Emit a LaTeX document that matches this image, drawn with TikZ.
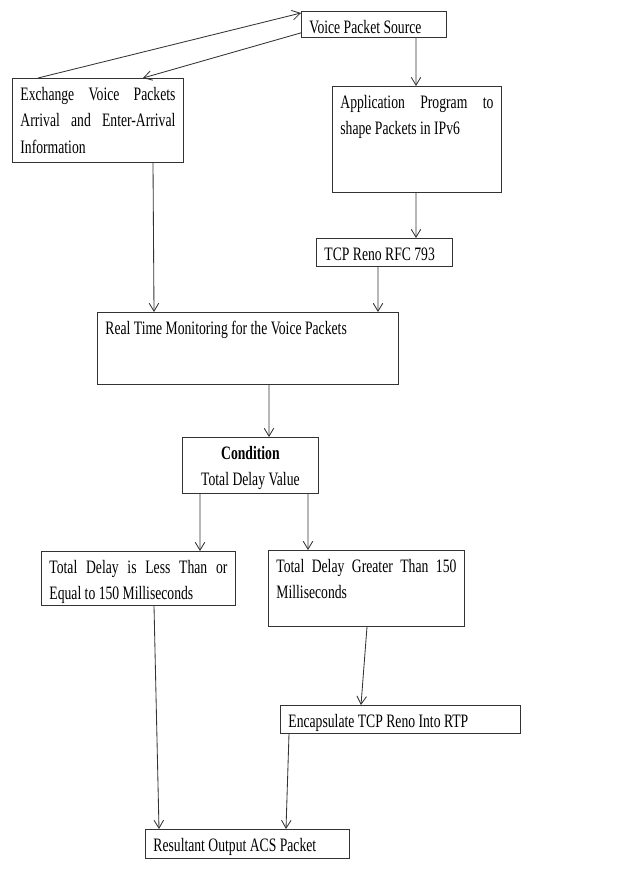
\documentclass[tikz,border=0pt]{standalone}
\usepackage{fontspec}
\setmainfont[FakeStretch=0.72]{Liberation Serif}
\usetikzlibrary{arrows.meta}
\hyphenpenalty=10000
\tolerance=10000
\begin{document}
\begin{tikzpicture} [>={Straight Barb[length=2mm, width=2.4mm]},
	box/.style = {draw = black!80, line width = 0.6pt, anchor = north west, inner xsep = 0.2cm, inner ysep = 0pt, text height = 0.54cm, align = justify, font = \fontsize{13.5}{19}\selectfont},
	link/.style = {black!80, line width = 0.6pt, ->}]
	\useasboundingbox (0,0) rectangle (15.725,-22.1);
	% boxes
	\node [box, text width = 3.225cm, text depth = 0.11cm] (src) at (7.525,-0.275) {Voice Packet Source};
	\node [box, text width = 3.875cm, text depth = 1.56cm] (exch) at (0.3,-1.95) {Exchange Voice Packets Arrival and Enter-Arrival Information};
	\node [box, text width = 3.825cm, text depth = 2.11cm] (app) at (8.3,-2.15) {Application Program to shape Packets in IPv6};
	\node [box, text width = 3cm, text depth = 0.16cm] (tcp) at (7.9,-5.95) {TCP Reno RFC 793};
	\node [box, text width = 7.125cm, text depth = 1.26cm] (mon) at (2.425,-7.8) {Real Time Monitoring for the Voice Packets};
	\node [box, text width = 3cm, text depth = 0.86cm, align = flush center] (cond) at (4.55,-10.925) {\textbf{Condition}\\Total Delay Value};
	\node [box, text width = 4.45cm, text depth = 0.81cm] (less) at (1.025,-13.775) {Total Delay is Less Than or Equal to 150 Milliseconds};
	\node [box, text width = 4.5cm, text depth = 1.36cm] (more) at (6.7,-13.75) {Total Delay Greater Than 150 Milliseconds};
	\node [box, text width = 5.6cm, text depth = 0.16cm] (enc) at (7,-17.625) {Encapsulate TCP Reno Into RTP};
	\node [box, text width = 4.7cm, text depth = 0.185cm] (res) at (3.625,-20.725) {Resultant Output ACS Packet};
	% arrows
	\draw [link] ([xshift=0.65cm]exch.north west) -- ([yshift=-0.05cm]src.north west);
	\draw [link] ([yshift=0.125cm]src.south west) -- ([xshift=3.275cm]exch.north west);
	\draw [link] ([xshift=2.875cm]src.south west) -- ([xshift=2.1cm]app.north west);
	\draw [link] ([xshift=2.1cm]app.south west) -- ([xshift=2.5cm]tcp.north west);
	\draw [link] ([xshift=3.525cm]exch.south west) -- ([xshift=1.425cm]mon.north west);
	\draw [link] ([xshift=1.55cm]tcp.south west) -- ([xshift=7.025cm]mon.north west);
	\draw [link] ([xshift=4.3cm]mon.south west) -- ([xshift=2.175cm]cond.north west);
	\draw [link] ([xshift=0.45cm]cond.south west) -- ([xshift=3.975cm]less.north west);
	\draw [link] ([xshift=3.15cm]cond.south west) -- ([xshift=1cm]more.north west);
	\draw [link] ([xshift=2.825cm]less.south west) -- ([xshift=0.35cm]res.north west);
	\draw [link] ([xshift=2.475cm]more.south west) -- ([xshift=2.025cm]enc.north west);
	\draw [link] ([xshift=0.225cm]enc.south west) -- ([xshift=3.525cm]res.north west);
\end{tikzpicture}
\end{document}
